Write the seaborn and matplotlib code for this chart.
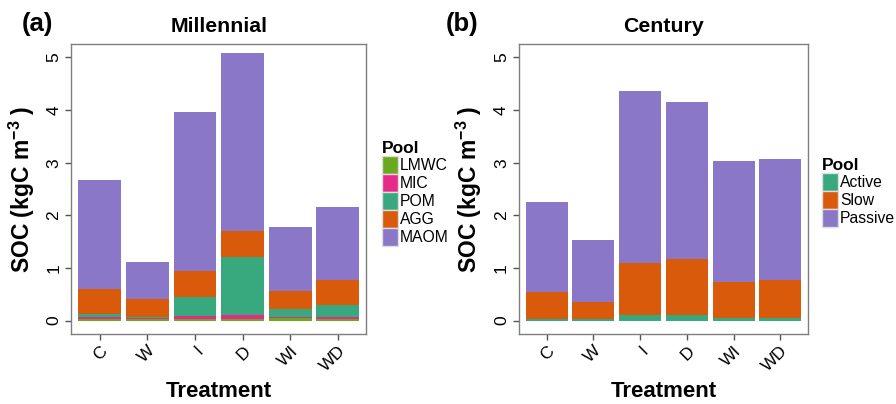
import matplotlib
matplotlib.use("Agg")
import matplotlib.pyplot as plt
from matplotlib.patches import Patch
import seaborn as sns
import numpy as np
import pandas as pd

treatments = ["C", "W", "I", "D", "WI", "WD"]

# Millennial pools (kgC m-3), bottom to top
mil_pools = ["LMWC", "MIC", "POM", "AGG", "MAOM"]
mil_lmwc = [0.03, 0.02, 0.03, 0.03, 0.04, 0.03]
mil_mic = [0.03, 0.02, 0.06, 0.08, 0.02, 0.03]
mil_pom = [0.07, 0.03, 0.36, 1.09, 0.15, 0.23]
mil_agg = [0.47, 0.33, 0.49, 0.51, 0.36, 0.49]
mil_maom = [2.08, 0.72, 3.03, 3.37, 1.21, 1.37]

# Century pools
cen_pools = ["Active", "Slow", "Passive"]
cen_active = [0.03, 0.03, 0.10, 0.10, 0.05, 0.05]
cen_slow = [0.52, 0.33, 1.00, 1.07, 0.69, 0.73]
cen_passive = [1.70, 1.18, 3.27, 2.99, 2.29, 2.29]

col_lmwc = "#6aa81e"
col_mic = "#e7298a"
col_pom = "#38a97e"
col_agg = "#d95a0b"
col_maom = "#8a77c7"

sns.set_style("white")
plt.rcParams["font.family"] = ["Liberation Sans", "DejaVu Sans"]
plt.rcParams["mathtext.default"] = "regular"
plt.rcParams["text.color"] = "black"
plt.rcParams["axes.labelcolor"] = "black"
plt.rcParams["xtick.color"] = "black"
plt.rcParams["ytick.color"] = "black"

fig = plt.figure(figsize=(8.96, 4.04), dpi=100)
ax_a = fig.add_axes([71.3 / 896, 70.3 / 404, 295 / 896, 289.4 / 404])
ax_b = fig.add_axes([518.7 / 896, 70.3 / 404, 289.6 / 896, 289.4 / 404])


def stacked(ax, layers, colors):
    df = pd.DataFrame(dict(zip(range(len(layers)), layers)), index=treatments)
    cum = df.cumsum(axis=1)
    # draw the tallest cumulative layer first, then the lower ones on top
    for i in reversed(range(len(layers))):
        sns.barplot(x=treatments, y=cum[i].values, order=treatments, color=colors[i],
                    saturation=1, width=0.9, ax=ax, linewidth=0)


stacked(ax_a, [mil_lmwc, mil_mic, mil_pom, mil_agg, mil_maom],
        [col_lmwc, col_mic, col_pom, col_agg, col_maom])
stacked(ax_b, [cen_active, cen_slow, cen_passive], [col_pom, col_agg, col_maom])

for ax, title in [(ax_a, "Millennial"), (ax_b, "Century")]:
    ax.set_xlim(-0.6, 5.6)
    ax.set_ylim(-0.25, 5.25)
    ax.set_yticks(range(6))
    ax.set_yticklabels([str(v) for v in range(6)], rotation=90, va="center", fontsize=12.5)
    ax.set_xticks(range(6))
    ax.set_xticklabels(treatments, rotation=45, ha="right", rotation_mode="anchor", fontsize=12.5)
    ax.tick_params(axis="both", length=4, width=1, color="#555555", pad=3, direction="out",
                   bottom=True, left=True)
    for s in ax.spines.values():
        s.set_color("#7f7f7f")
        s.set_linewidth(1)
    ax.set_title(title, fontsize=15.3, fontweight="bold", pad=9)
    ax.set_xlabel("Treatment", fontsize=16, fontweight="bold", labelpad=5)
    ax.set_ylabel("SOC (kgC m$^{-3}$ )", fontsize=16.5, fontweight="bold", labelpad=7)

fig.text(22 / 896, 1 - 24 / 404, "(a)", fontsize=18.5, fontweight="bold", va="center")
fig.text(446 / 896, 1 - 24 / 404, "(b)", fontsize=18.5, fontweight="bold", va="center")

h_a = [Patch(facecolor=c, edgecolor="#dddddd") for c in
       [col_lmwc, col_mic, col_pom, col_agg, col_maom]]
fig.legend(h_a, mil_pools, title="Pool", loc="upper left",
           bbox_to_anchor=(371 / 896, 1 - 130 / 404), frameon=False, fontsize=11.3,
           title_fontproperties={"weight": "bold", "size": 12.5}, handlelength=1.0,
           handleheight=1.35, labelspacing=0.02, handletextpad=0.15, borderpad=0.2,
           alignment="left")
h_b = [Patch(facecolor=c, edgecolor="#dddddd") for c in [col_pom, col_agg, col_maom]]
fig.legend(h_b, cen_pools, title="Pool", loc="upper left",
           bbox_to_anchor=(811 / 896, 1 - 147 / 404), frameon=False, fontsize=11.3,
           title_fontproperties={"weight": "bold", "size": 12.5}, handlelength=1.0,
           handleheight=1.35, labelspacing=0.02, handletextpad=0.15, borderpad=0.2,
           alignment="left")

fig.savefig("out.png", dpi=100)
